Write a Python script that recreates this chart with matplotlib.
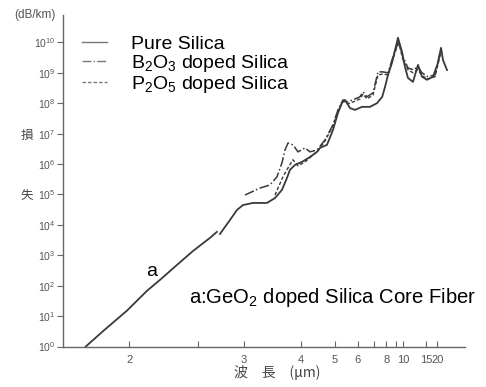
import matplotlib
matplotlib.use("Agg")
import matplotlib.pyplot as plt
import numpy as np

plt.rcParams['font.family'] = ['Liberation Sans', 'DejaVu Sans']
plt.rcParams['mathtext.fontset'] = 'custom'
plt.rcParams['mathtext.rm'] = 'Liberation Sans'
plt.rcParams['mathtext.it'] = 'Liberation Sans:italic'

# wavelength (um) and log10 of loss (dB/km)
ge_wl = [1.774, 1.856, 1.986, 2.108, 2.196, 2.322, 2.456, 2.615, 2.687]
ge_log = [0.0, 0.50, 1.18, 1.83, 2.19, 2.68, 3.14, 3.57, 3.77]

pure_wl = [2.719, 2.832, 2.916, 2.993, 3.129, 3.343, 3.479, 3.608, 3.705, 3.767,
           3.873, 4.033, 4.232, 4.424, 4.512, 4.730, 4.934, 5.119, 5.277, 5.402,
           5.624, 5.865, 6.239, 6.730, 7.227, 7.650, 7.900, 8.177, 8.587, 9.286,
           9.819, 10.26, 10.74, 11.66, 12.74, 13.77, 15.31, 17.68, 20.31, 22.29,
           23.85, 27.71]
pure_log = [3.70, 4.16, 4.49, 4.65, 4.72, 4.72, 4.88, 5.15, 5.54, 5.81,
            5.97, 6.07, 6.23, 6.40, 6.53, 6.63, 7.12, 7.68, 8.01, 8.11,
            7.84, 7.78, 7.88, 7.88, 8.00, 8.21, 8.54, 8.93, 9.33, 10.15,
            9.69, 9.19, 8.83, 8.70, 9.26, 8.87, 8.77, 8.87, 9.33, 9.82,
            9.42, 9.09]

b2o3_wl = [3.019, 3.233, 3.393, 3.515, 3.608, 3.666, 3.726, 3.830, 3.940, 4.106,
           4.232, 4.424, 4.665, 4.934, 5.119, 5.318, 5.488, 5.766, 6.127, 6.296,
           6.537, 6.934, 7.304, 7.716, 8.177, 8.587, 9.162, 9.414, 9.962, 10.74,
           11.66, 12.74, 13.77, 15.66, 18.65, 21.59, 23.04]
b2o3_log = [4.98, 5.21, 5.31, 5.58, 6.04, 6.46, 6.69, 6.63, 6.40, 6.53,
            6.40, 6.46, 6.79, 7.29, 7.78, 8.11, 8.04, 8.11, 8.21, 8.37,
            8.21, 8.34, 9.03, 9.03, 9.00, 9.42, 9.92, 10.02, 9.52, 9.16,
            9.10, 9.19, 9.00, 8.87, 8.93, 9.65, 9.75]

p2o5_wl = [3.479, 3.627, 3.726, 3.830, 3.940, 4.106, 4.286, 4.453, 4.665, 4.934,
           5.119, 5.318, 5.533, 5.766, 6.127, 6.296, 6.537, 6.934, 7.304, 7.716,
           8.177, 8.587, 9.162, 9.414, 9.962, 10.74, 11.66, 12.74, 13.77, 15.66,
           18.65, 21.59, 23.04]
p2o5_log = [4.98, 5.58, 5.87, 6.14, 5.94, 6.07, 6.27, 6.43, 6.76, 7.25,
            7.75, 8.08, 7.98, 8.04, 8.14, 8.30, 8.14, 8.27, 8.93, 8.96,
            8.93, 9.36, 9.85, 9.95, 9.42, 9.10, 9.00, 9.10, 8.90, 8.80,
            8.87, 9.56, 9.69]

x_ticks = [2, 2.5, 3, 4, 5, 6, 7, 8, 9, 10, 15, 20]
x_labels = ['2', '', '3', '4', '5', '6', '', '8', '', '10', '15', '20']
y_exps = list(range(0, 11))

line_col = '#3a3a3a'
axis_col = '#666666'

fig = plt.figure(figsize=(4.86, 3.87), dpi=100)
ax = fig.add_axes([63/486, 1-346.5/387, (465-63)/486, (346.5-15)/387])

def fwd(x):
    with np.errstate(divide='ignore', invalid='ignore'):
        return -1.0/np.asarray(x, dtype=float)

# x axis is linear in wavenumber (1/wavelength)
ax.set_xscale('function', functions=(fwd, fwd))
ax.set_yscale('log')

ax.plot(ge_wl, 10**np.array(ge_log), color=line_col, lw=1.3)
ax.plot(pure_wl, 10**np.array(pure_log), color=line_col, lw=1.3, label='Pure Silica')
ax.plot(b2o3_wl, 10**np.array(b2o3_log), color=line_col, lw=1.1, ls='-.',
        label='B$_2$O$_3$ doped Silica')
ax.plot(p2o5_wl, 10**np.array(p2o5_log), color=line_col, lw=1.0, ls=(0, (2.5, 1.5)),
        label='P$_2$O$_5$ doped Silica')

ax.set_xlim(1.675, 102)
ax.set_ylim(1, 10**10.9)

ax.set_xticks(x_ticks)
ax.set_xticklabels(x_labels)
ax.xaxis.set_minor_locator(matplotlib.ticker.NullLocator())
ax.set_yticks([10.0**e for e in y_exps])
ax.set_yticklabels(['10$^{%d}$' % e for e in y_exps])
ax.yaxis.set_minor_locator(matplotlib.ticker.NullLocator())

ax.tick_params(axis='x', direction='in', length=4, color=axis_col, labelcolor='#555555',
               labelsize=8, pad=6)
ax.tick_params(axis='y', direction='out', length=4, color=axis_col, labelcolor='#555555',
               labelsize=7.5, pad=1.5)
for s in ['top', 'right']:
    ax.spines[s].set_visible(False)
for s in ['left', 'bottom']:
    ax.spines[s].set_color(axis_col)
    ax.spines[s].set_linewidth(1.0)

leg = ax.legend(loc='upper left', bbox_to_anchor=(0.028, 0.962), frameon=False,
                fontsize=14, handlelength=1.3, handletextpad=1.2, labelspacing=0.0,
                borderaxespad=0)
for h in leg.get_lines():
    h.set_color('#777777')
    h.set_linewidth(1.0)

ax.text(2.141, 10**2.45, 'a', fontsize=14, ha='center', va='center')
ax.text(0.314, 0.148, 'a:GeO$_2$ doped Silica Core Fiber', transform=ax.transAxes,
        fontsize=14.6, ha='left', va='center')

cjk = ['Noto Sans CJK JP', 'DejaVu Sans']
fig.text(35/486, 1-15/387, '(dB/km)', fontsize=8.5, color='#555555', ha='center', va='center')
fig.text(27/486, 1-135/387, '損', family=cjk, fontsize=9, color='#444444', ha='center', va='center')
fig.text(27/486, 1-195/387, '失', family=cjk, fontsize=9, color='#444444', ha='center', va='center')
fig.text(277/486, 1-373/387, '波　長　(μm)', family=cjk, fontsize=10, color='#444444',
         ha='center', va='center')

fig.savefig('out.png', dpi=100)
